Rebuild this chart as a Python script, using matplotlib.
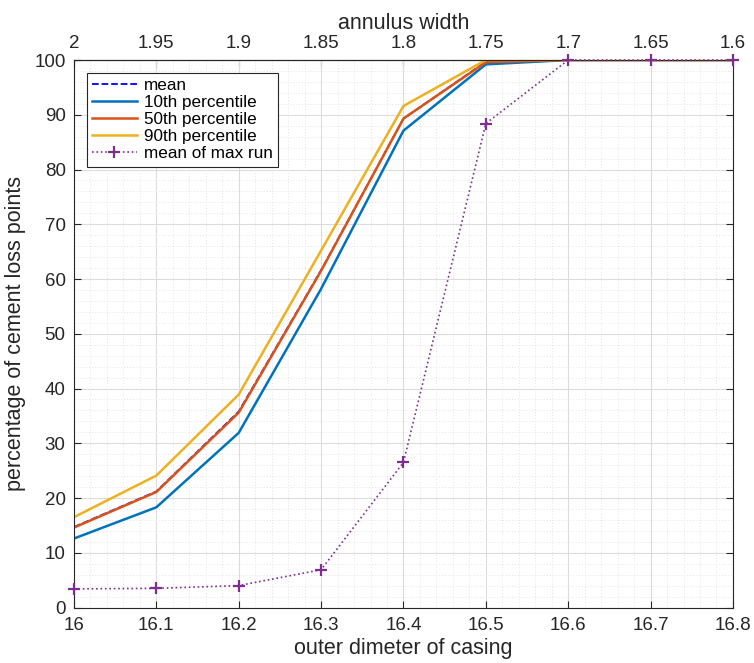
import matplotlib
matplotlib.use("Agg")
import matplotlib.pyplot as plt
import numpy as np
from matplotlib.ticker import MultipleLocator, AutoMinorLocator

plt.rcParams['font.family'] = ['Liberation Sans', 'DejaVu Sans']

# outer diameter of casing and loss statistics (percent)
diameter = [16.0, 16.1, 16.2, 16.3, 16.4, 16.5, 16.6, 16.7, 16.8]
mean_loss = [14.7, 21.2, 35.8, 61.6, 89.3, 99.7, 100, 100, 100]
p10 = [12.6, 18.3, 31.9, 58.2, 87.1, 99.2, 100, 100, 100]
p50 = [14.6, 21.1, 35.6, 61.5, 89.3, 99.6, 100, 100, 100]
p90 = [16.5, 24.1, 38.9, 65.2, 91.6, 100, 100, 100, 100]
max_run = [3.4, 3.5, 4.0, 6.9, 26.5, 88.4, 100, 100, 100]

width_ticks = [2, 1.95, 1.9, 1.85, 1.8, 1.75, 1.7, 1.65, 1.6]

fig = plt.figure(figsize=(7.54, 6.63), dpi=100)
ax = fig.add_axes([0.0981, 0.0837, 0.874, 0.8258])

ax.plot(diameter, mean_loss, '--', color=(0, 0, 1), lw=1.3, label='mean')
ax.plot(diameter, p10, '-', color='#0072BD', lw=1.8, label='10th percentile')
ax.plot(diameter, p50, '-', color='#D95319', lw=1.8, label='50th percentile')
ax.plot(diameter, p90, '-', color='#EDB120', lw=1.8, label='90th percentile')
ax.plot(diameter, max_run, ':', color='#7E2F8E', lw=1.2, marker='+', ms=9,
        mew=1.6, label='mean of max run', clip_on=False, zorder=5)

ax.set_xlim(16, 16.8)
ax.set_ylim(0, 100)
ax.xaxis.set_major_locator(MultipleLocator(0.1))
ax.yaxis.set_major_locator(MultipleLocator(10))
ax.xaxis.set_minor_locator(AutoMinorLocator(5))
ax.yaxis.set_minor_locator(AutoMinorLocator(5))
ax.set_xticklabels([f'{v:g}' for v in ax.get_xticks()])
ax.grid(which='major', color='#dcdcdc', lw=0.8)
ax.grid(which='minor', color='#e4e4e4', lw=0.7, ls=(0, (1, 2)))
ax.set_axisbelow(True)
ax.tick_params(which='both', direction='in', labelsize=13.5, colors='#262626',
               right=True)
ax.tick_params(which='minor', length=0)
ax.tick_params(which='major', length=5, top=False)
ax.tick_params(axis='x', pad=7)
ax.tick_params(axis='y', pad=6)
for s in ax.spines.values():
    s.set_color('#262626')
    s.set_linewidth(0.8)

ax.set_xlabel('outer dimeter of casing', fontsize=15.5, color='#262626', labelpad=3)
ax.set_ylabel('percentage of cement loss points', fontsize=15.5, color='#262626', labelpad=6)

top = ax.secondary_xaxis('top', functions=(lambda x: 10 - x / 2, lambda w: 20 - 2 * w))
top.set_xticks(width_ticks)
top.set_xticklabels([f'{v:g}' for v in width_ticks])
top.tick_params(direction='in', length=5, labelsize=13.5, colors='#262626', pad=6)
top.set_xlabel('annulus width', fontsize=15.5, color='#262626', labelpad=4)

leg = ax.legend(loc='upper left', bbox_to_anchor=(0.02, 0.976), fontsize=12.3,
                fancybox=False, edgecolor='#262626', framealpha=1,
                handlelength=2.6, handletextpad=0.4, labelspacing=0.12,
                borderpad=0.3, borderaxespad=0)
leg.get_frame().set_linewidth(0.8)

fig.savefig('out.png', dpi=100)
